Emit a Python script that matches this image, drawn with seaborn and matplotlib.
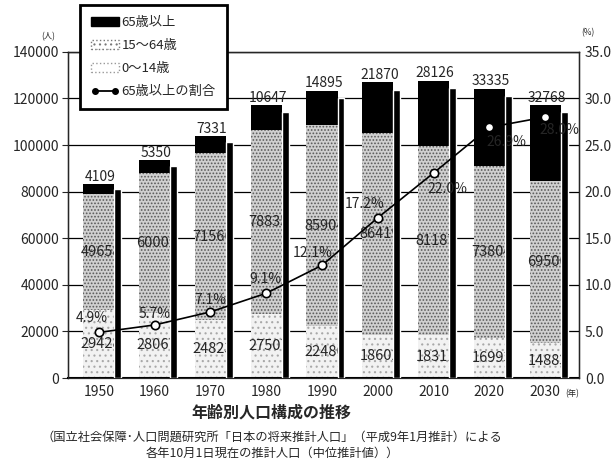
import numpy as np
import pandas as pd
import matplotlib
matplotlib.use('Agg')
import matplotlib.pyplot as plt
import seaborn as sns
from matplotlib.patches import Patch
from matplotlib.lines import Line2D

# data (thousand persons)
years = ['1950', '1960', '1970', '1980', '1990', '2000', '2010', '2020', '2030']
age_0_14 = [29428, 28067, 24823, 27507, 22486, 18602, 18311, 16993, 14883]
age_15_64 = [49658, 60002, 71566, 78835, 85904, 86419, 81187, 73804, 69500]
age_65_over = [4109, 5350, 7331, 10647, 14895, 21870, 28126, 33335, 32768]
ratio_65 = [4.9, 5.7, 7.1, 9.1, 12.1, 17.2, 22.0, 26.9, 28.0]

# label offsets for the percent labels (pixels, dx / dy)
pct_offsets = [(-7, 14), (0, 11), (0, 12), (-1, 14), (-9, 12), (-13, 14), (14, -16), (17, -15), (14, -13)]

sns.set_style('ticks')
plt.rcParams['font.family'] = ['Noto Sans CJK JP', 'DejaVu Sans']

df = pd.DataFrame({'year': years, 'young': age_0_14, 'working': age_15_64, 'old': age_65_over})
df['upto64'] = df['young'] + df['working']
df['total'] = df['upto64'] + df['old']

fig = plt.figure(figsize=(6.11, 4.75), dpi=100)
ax = fig.add_axes([0.111, 0.204, 0.837, 0.687])

bar_w = 0.56
shadow_w = 0.12

def stack_layer(col, face, hatch=None, hatch_col=None):
    n0 = len(ax.patches)
    sns.barplot(data=df, x='year', y=col, color=face, saturation=1, width=bar_w,
                errorbar=None, ax=ax)
    for p in ax.patches[n0:]:
        p.set_facecolor(face)
        p.set_linewidth(0)
        p.set_zorder(2)
        if hatch:
            p.set_hatch(hatch)
            p.set_edgecolor(hatch_col)

plt.rcParams['hatch.linewidth'] = 0.8
stack_layer('total', 'black')
stack_layer('upto64', '#d0d0d0', '.....', '#5a5a5a')
stack_layer('young', '#f2f2f2', '...', '#a8a8a8')

x = np.arange(len(years))
# black shadow on the right side of each bar
ax.bar(x + bar_w / 2, df['total'] * 0.975, width=shadow_w, align='edge', color='black', zorder=5)

# value labels
for i in range(len(years)):
    ax.text(x[i] + 0.03, df['total'][i] + 200, str(age_65_over[i]), ha='center', va='bottom',
            fontsize=10, zorder=4)
    ax.text(x[i] + 0.04, df['young'][i] + age_15_64[i] / 2, str(age_15_64[i]), ha='center',
            va='center', fontsize=10.5, zorder=4)
    ax.text(x[i] + 0.04, age_0_14[i] / 2, str(age_0_14[i]), ha='center', va='center',
            fontsize=10.5, zorder=4)

ax.set_ylim(0, 140000)
ax.set_xlim(-0.556, 8.61)
ax.set_yticks(np.arange(0, 140001, 20000))
ax.yaxis.grid(True, color='black', lw=0.9)
ax.set_axisbelow(True)
ax.set_xlabel('')
ax.set_ylabel('')
ax.tick_params(axis='y', labelsize=10, length=4, width=0.8, pad=2)
ax.tick_params(axis='x', labelsize=10, length=0, pad=5)
for s in ax.spines.values():
    s.set_color('black')
    s.set_linewidth(1.0)
ax.spines['bottom'].set_linewidth(1.5)

ax2 = ax.twinx()
sns.lineplot(x=x, y=ratio_65, ax=ax2, color='black', lw=1.2, marker='o', markersize=6,
             markerfacecolor='white', markeredgecolor='black', markeredgewidth=1.2)
ax2.set_ylim(0, 35)
ax2.set_yticks(np.arange(0, 35.1, 5))
ax2.set_yticklabels([f'{v:.1f}' for v in np.arange(0, 35.1, 5)])
ax2.tick_params(axis='y', labelsize=10, length=0, pad=4)
ax2.set_ylabel('')
for i, v in enumerate(ratio_65):
    dx, dy = pct_offsets[i]
    ax2.annotate(f'{v:.1f}%', (x[i], v), xytext=(dx * 0.72, dy * 0.72), textcoords='offset points',
                 ha='center', va='center', fontsize=10)

ax.set_xticks(x)
ax.set_xticklabels(years)

fig.text(0.079, 0.918, '(人)', fontsize=6, ha='center')
fig.text(0.962, 0.925, '(%)', fontsize=6, ha='center')
fig.text(0.937, 0.172, '(年)', fontsize=6, ha='center', va='center')

handles = [
    Patch(facecolor='black', edgecolor='black'),
    Patch(facecolor='white', edgecolor='#777777', linestyle=':', hatch='...'),
    Patch(facecolor='white', edgecolor='#999999', linestyle=':'),
    Line2D([0], [0], color='black', lw=1.3, marker='o', markersize=4),
]
labels = ['65歳以上', '15～64歳', '0～14歳', '65歳以上の割合']
leg = fig.legend(handles, labels, loc='upper left', bbox_to_anchor=(0.131, 0.989), fontsize=9.5,
                 frameon=True, fancybox=False, edgecolor='black', framealpha=1, numpoints=2,
                 handlelength=2.1, handleheight=0.7, labelspacing=0.75, borderpad=0.85,
                 handletextpad=0.2, borderaxespad=0)
leg.get_frame().set_linewidth(2)

fig.text(0.445, 0.132, '年齢別人口構成の推移', fontsize=11.5, fontweight='bold', ha='center', va='center')
fig.text(0.445, 0.080, '（国立社会保障･人口問題研究所「日本の将来推計人口」（平成9年1月推計）による',
         fontsize=8.8, ha='center', va='center')
fig.text(0.445, 0.046, '各年10月1日現在の推計人口（中位推計値））', fontsize=8.8, ha='center', va='center')

fig.savefig('out.png', dpi=100)
